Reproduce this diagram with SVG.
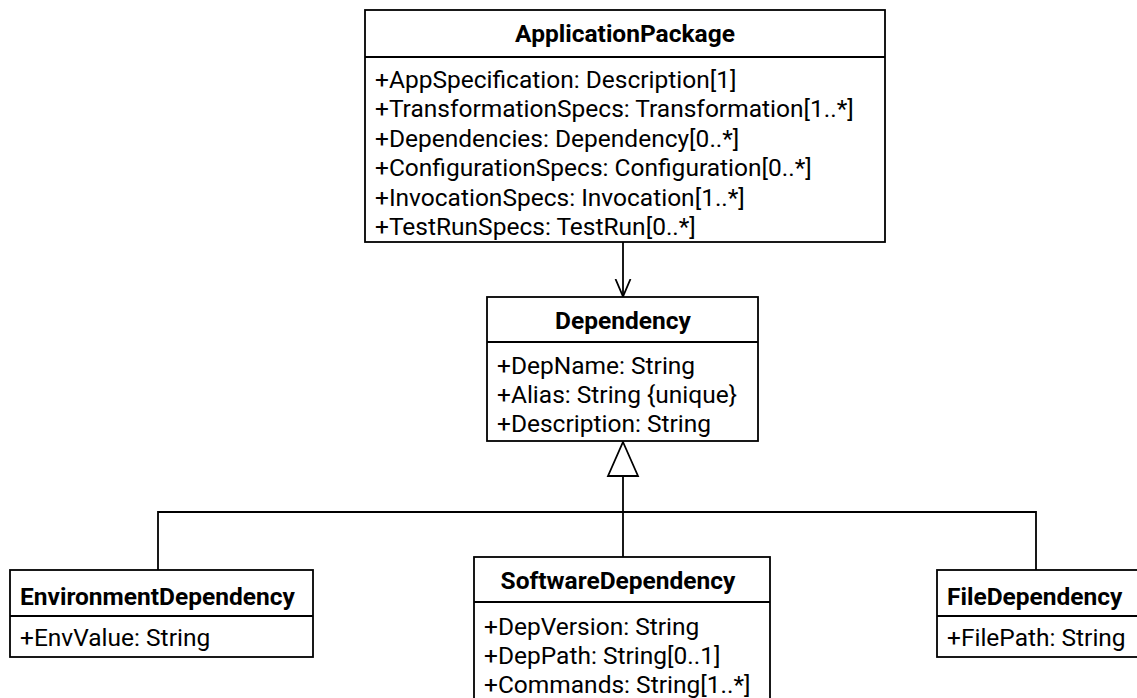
<svg xmlns="http://www.w3.org/2000/svg" width="1137" height="698" viewBox="0 0 1137 698">
  <style>
    .box { fill: #ffffff; stroke: #000000; stroke-width: 1.8; }
    .sep { stroke: #000000; stroke-width: 1.8; }
    .title { font-family: Roboto, "Liberation Sans", sans-serif; font-size: 24.5px; font-weight: bold; fill: #000000; }
    .attr { font-family: Roboto, "Liberation Sans", sans-serif; font-size: 24.5px; fill: #000000; }
    .edge { fill: none; stroke: #000000; stroke-width: 1.8; }
  </style>
  <defs>
    <marker id="open-arrow" viewBox="0 0 18 20" refX="18" refY="10" markerWidth="18" markerHeight="20" markerUnits="userSpaceOnUse" orient="auto">
      <path d="M0,2.5 L17.5,10 L0,17.5" fill="none" stroke="#000000" stroke-width="1.8"/>
    </marker>
  </defs>

  <!-- association and generalization lines -->
  <g id="connectors">
    <path class="edge" d="M623,242 L623,297" marker-end="url(#open-arrow)"/>
    <path class="edge" d="M623,476 L623,557"/>
    <path class="edge" d="M158,570 L158,512 L1036,512 L1036,570"/>
    <path d="M623,442 L638,476 L608,476 Z" fill="#ffffff" stroke="#000000" stroke-width="1.8"/>
  </g>

  <g id="ApplicationPackage">
    <rect class="box" x="365" y="10" width="520" height="232"/>
    <line class="sep" x1="365" y1="57" x2="885" y2="57"/>
    <text class="title" x="625" y="42" text-anchor="middle">ApplicationPackage</text>
    <text class="attr" x="375" y="88">+AppSpecification: Description[1]</text>
    <text class="attr" x="375" y="117.4">+TransformationSpecs: Transformation[1..*]</text>
    <text class="attr" x="375" y="146.8">+Dependencies: Dependency[0..*]</text>
    <text class="attr" x="375" y="176.2">+ConfigurationSpecs: Configuration[0..*]</text>
    <text class="attr" x="375" y="205.6">+InvocationSpecs: Invocation[1..*]</text>
    <text class="attr" x="375" y="235">+TestRunSpecs: TestRun[0..*]</text>
  </g>

  <g id="Dependency">
    <rect class="box" x="487" y="297" width="271" height="144"/>
    <line class="sep" x1="487" y1="342" x2="758" y2="342"/>
    <text class="title" x="623" y="329" text-anchor="middle">Dependency</text>
    <text class="attr" x="497" y="374">+DepName: String</text>
    <text class="attr" x="497" y="403">+Alias: String {unique}</text>
    <text class="attr" x="497" y="432">+Description: String</text>
  </g>

  <g id="EnvironmentDependency">
    <rect class="box" x="10" y="570" width="303" height="87"/>
    <line class="sep" x1="10" y1="616" x2="313" y2="616"/>
    <text class="title" x="20" y="605">EnvironmentDependency</text>
    <text class="attr" x="20" y="646">+EnvValue: String</text>
  </g>

  <g id="SoftwareDependency">
    <rect class="box" x="474" y="557" width="296" height="160"/>
    <line class="sep" x1="474" y1="602" x2="770" y2="602"/>
    <text class="title" x="618" y="589" text-anchor="middle">SoftwareDependency</text>
    <text class="attr" x="484" y="635">+DepVersion: String</text>
    <text class="attr" x="484" y="664">+DepPath: String[0..1]</text>
    <text class="attr" x="484" y="693">+Commands: String[1..*]</text>
  </g>

  <g id="FileDependency">
    <rect class="box" x="937" y="570" width="210" height="87"/>
    <line class="sep" x1="937" y1="616" x2="1147" y2="616"/>
    <text class="title" x="947" y="605">FileDependency</text>
    <text class="attr" x="947" y="646">+FilePath: String</text>
  </g>
</svg>
